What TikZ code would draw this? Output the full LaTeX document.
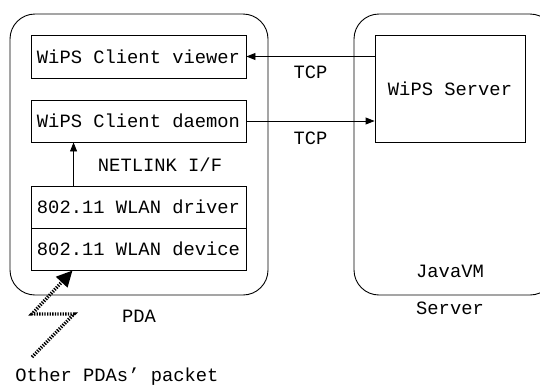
\documentclass[tikz,border=0pt]{standalone}
\usepackage{fontspec}
\setmainfont{Liberation Mono}
\usetikzlibrary{arrows.meta,calc}

\begin{document}
\begin{tikzpicture}[x=1pt,y=-1pt,
    every node/.style={font=\fontsize{18.8}{22}\selectfont},
    layer/.style={draw,line width=0.9pt,minimum width=215pt,minimum height=42pt,inner sep=0pt},
    host/.style={draw,line width=0.9pt,rounded corners=25pt,inner sep=0pt},
    tcp/.style={line width=0.9pt,-{Triangle[length=9pt,width=7pt]}}]
  \clip (0,0) rectangle (540,386);
  \node[host,minimum width=258pt,minimum height=281pt] (pda) at (139,154.5) {};
  \node[host,minimum width=201pt,minimum height=281pt] (vm) at (454.5,154.5) {};
  \node[layer,minimum height=43pt] (viewer) at (138.5,56.5) {WiPS Client viewer};
  \node[layer] (daemon) at (138.5,121) {WiPS Client daemon};
  \node[layer] (driver) at (138.5,207) {802.11 WLAN driver};
  \node[layer] (device) at (138.5,249) {802.11 WLAN device};
  \node[layer,minimum width=150pt,minimum height=107pt] (server) at (450,88.5) {WiPS Server};
  \draw[tcp] (viewer.east -| server.west) -- (viewer.east) node[midway,yshift=-16pt] {TCP};
  \draw[tcp] (daemon.east) -- (daemon.east -| server.west) node[midway,yshift=-17pt] {TCP};
  \draw[tcp] ([xshift=43pt]driver.north west) -- ([xshift=43pt]daemon.south west);
  \node (netlink) at (160,165) {NETLINK I/F};
  \node (java) at (450,271) {JavaVM};
  \node (srv) at (450,308) {Server};
  \node (pdalbl) at (139,316) {PDA};
  \node (other) at (117,377) {Other PDAs' packet};
  % packets from the air
  \coordinate (p0) at (32,357);
  \coordinate (p1) at (74,314);
  \coordinate (p2) at (32,314);
  \draw[line width=3.4pt,dash pattern=on 1.3pt off 1.3pt,-{Triangle[length=16pt,width=15pt]}]
    (p0) -- (p1) -- (p2) -- ($(device.south west)+(42,0)$);
\end{tikzpicture}
\end{document}
